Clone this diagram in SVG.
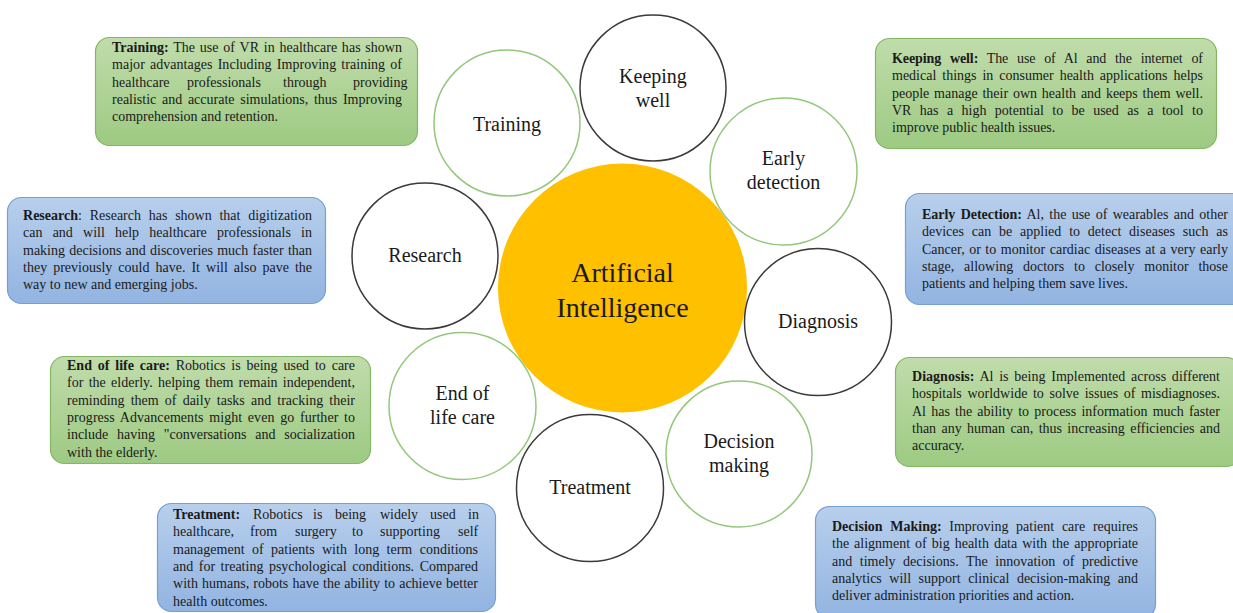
<svg xmlns="http://www.w3.org/2000/svg" width="1233" height="613" viewBox="0 0 1233 613">
  <defs>
    <linearGradient id="gGreen" x1="0" y1="0" x2="0" y2="1">
      <stop offset="0" stop-color="#c0dcab"/>
      <stop offset="1" stop-color="#9dca82"/>
    </linearGradient>
    <linearGradient id="gBlue" x1="0" y1="0" x2="0" y2="1">
      <stop offset="0" stop-color="#b8cfec"/>
      <stop offset="1" stop-color="#92b4e1"/>
    </linearGradient>
  </defs>
  <style>
    .box-green { fill: url(#gGreen); stroke: #82b865; stroke-width: 1.2; }
    .box-blue { fill: url(#gBlue); stroke: #74a0d6; stroke-width: 1.2; }
    .ring-dark { fill: #ffffff; stroke: #3a3a3a; stroke-width: 1.5; }
    .ring-green { fill: #ffffff; stroke: #93c87c; stroke-width: 1.5; }
    .hub { fill: #ffc000; }
    .lbl { font-size: 20px; fill: #1a1a1a; text-anchor: middle; }
    .hub-lbl { font-size: 28px; fill: #1a1a1a; text-anchor: middle; }
    .para { font-size: 14px; fill: #1a1a1a; }
    .b { font-weight: bold; }
  </style>

  <g font-family="'Liberation Serif', serif">
  <!-- central hub -->
  <g id="node-ai">
    <circle class="hub" cx="622.5" cy="288" r="124.5"/>
    <text class="hub-lbl" x="622.5" y="282">Artificial</text>
    <text class="hub-lbl" x="622.5" y="317">Intelligence</text>
  </g>

  <!-- satellite circles -->
  <g id="node-keeping-well">
    <circle class="ring-dark" cx="653" cy="88" r="73"/>
    <text class="lbl" x="653" y="83">Keeping</text>
    <text class="lbl" x="653" y="107">well</text>
  </g>
  <g id="node-early-detection">
    <circle class="ring-green" cx="783.5" cy="171.5" r="73.5"/>
    <text class="lbl" x="783.5" y="165">Early</text>
    <text class="lbl" x="783.5" y="189">detection</text>
  </g>
  <g id="node-diagnosis">
    <circle class="ring-dark" cx="818" cy="322" r="73.5"/>
    <text class="lbl" x="818" y="328">Diagnosis</text>
  </g>
  <g id="node-decision-making">
    <circle class="ring-green" cx="739" cy="454" r="73"/>
    <text class="lbl" x="739" y="448">Decision</text>
    <text class="lbl" x="739" y="472">making</text>
  </g>
  <g id="node-treatment">
    <circle class="ring-dark" cx="590" cy="488" r="73.5"/>
    <text class="lbl" x="590" y="494">Treatment</text>
  </g>
  <g id="node-end-of-life-care">
    <circle class="ring-green" cx="462.5" cy="406" r="73.5"/>
    <text class="lbl" x="462.5" y="400">End of</text>
    <text class="lbl" x="462.5" y="424">life care</text>
  </g>
  <g id="node-research">
    <circle class="ring-dark" cx="425" cy="256" r="73"/>
    <text class="lbl" x="425" y="262">Research</text>
  </g>
  <g id="node-training">
    <circle class="ring-green" cx="507" cy="123" r="73"/>
    <text class="lbl" x="507" y="131">Training</text>
  </g>

  <!-- description boxes (justified lines: word spacing + fixed length) -->
  <g id="note-training">
    <rect class="box-green" x="95.5" y="37.5" width="322" height="108" rx="14"/>
    <text class="para" x="112" y="52" word-spacing="1.2" textLength="290" lengthAdjust="spacing"><tspan class="b">Training:</tspan> The use of VR in healthcare has shown</text>
    <text class="para" x="112" y="69.3" word-spacing="1.6" textLength="290" lengthAdjust="spacing">major advantages Including Improving training of</text>
    <text class="para" y="86.6"><tspan x="112">healthcare</tspan><tspan x="187">professionals</tspan><tspan x="283">through</tspan><tspan x="353">providing</tspan></text>
    <text class="para" x="112" y="104" word-spacing="2.2" textLength="290" lengthAdjust="spacing">realistic and accurate simulations, thus Improving</text>
    <text class="para" x="112" y="121.3">comprehension and retention.</text>
  </g>

  <g id="note-keeping-well">
    <rect class="box-green" x="875.5" y="38.5" width="341" height="110" rx="14"/>
    <text class="para" x="892" y="63" word-spacing="5.4" textLength="311" lengthAdjust="spacing"><tspan class="b">Keeping well:</tspan> The use of Al and the internet of</text>
    <text class="para" x="892" y="80.3" word-spacing="2.4" textLength="311" lengthAdjust="spacing">medical things in consumer health applications helps</text>
    <text class="para" x="892" y="97.6" word-spacing="1.3" textLength="311" lengthAdjust="spacing">people manage their own health and keeps them well.</text>
    <text class="para" x="892" y="115" word-spacing="4.9" textLength="311" lengthAdjust="spacing">VR has a high potential to be used as a tool to</text>
    <text class="para" x="892" y="132.3">improve public health issues.</text>
  </g>

  <g id="note-research">
    <rect class="box-blue" x="7.5" y="197.5" width="318" height="106" rx="14"/>
    <text class="para" x="23" y="220" word-spacing="4.2" textLength="289" lengthAdjust="spacing"><tspan class="b">Research</tspan>: Research has shown that digitization</text>
    <text class="para" x="23" y="237.3" word-spacing="6.7" textLength="289" lengthAdjust="spacing">can and will help healthcare professionals in</text>
    <text class="para" x="23" y="254.6" word-spacing="0.7" textLength="289" lengthAdjust="spacing">making decisions and discoveries much faster than</text>
    <text class="para" x="23" y="272" word-spacing="2.5" textLength="289" lengthAdjust="spacing">they previously could have. It will also pave the</text>
    <text class="para" x="23" y="289.3">way to new and emerging jobs.</text>
  </g>

  <g id="note-early-detection">
    <rect class="box-blue" x="905.5" y="193.5" width="345" height="111" rx="14"/>
    <text class="para" x="922" y="219" word-spacing="1.9" textLength="306" lengthAdjust="spacing"><tspan class="b">Early Detection:</tspan> Al, the use of wearables and other</text>
    <text class="para" x="922" y="236.3" word-spacing="4.3" textLength="306" lengthAdjust="spacing">devices can be applied to detect diseases such as</text>
    <text class="para" x="922" y="253.6" word-spacing="1" textLength="306" lengthAdjust="spacing">Cancer, or to monitor cardiac diseases at a very early</text>
    <text class="para" x="922" y="271" word-spacing="6.3" textLength="306" lengthAdjust="spacing">stage, allowing doctors to closely monitor those</text>
    <text class="para" x="922" y="288.3">patients and helping them save lives.</text>
  </g>

  <g id="note-end-of-life-care">
    <rect class="box-green" x="50.5" y="356.5" width="320" height="107" rx="14"/>
    <text class="para" x="67" y="370" word-spacing="2.3" textLength="288" lengthAdjust="spacing"><tspan class="b">End of life care:</tspan> Robotics is being used to care</text>
    <text class="para" x="67" y="387.3" word-spacing="1.7" textLength="288" lengthAdjust="spacing">for the elderly. helping them remain independent,</text>
    <text class="para" x="67" y="404.6" word-spacing="2.6" textLength="288" lengthAdjust="spacing">reminding them of daily tasks and tracking their</text>
    <text class="para" x="67" y="422" word-spacing="2.1" textLength="288" lengthAdjust="spacing">progress Advancements might even go further to</text>
    <text class="para" x="67" y="439.3" word-spacing="5.2" textLength="288" lengthAdjust="spacing">include having "conversations and socialization</text>
    <text class="para" x="67" y="456.6">with the elderly.</text>
  </g>

  <g id="note-diagnosis">
    <rect class="box-green" x="895.5" y="357.5" width="345" height="109" rx="14"/>
    <text class="para" x="912" y="381" word-spacing="2.2" textLength="308" lengthAdjust="spacing"><tspan class="b">Diagnosis:</tspan> Al is being Implemented across different</text>
    <text class="para" x="912" y="398.3" word-spacing="2.1" textLength="308" lengthAdjust="spacing">hospitals worldwide to solve issues of misdiagnoses.</text>
    <text class="para" x="912" y="415.6" word-spacing="1.7" textLength="308" lengthAdjust="spacing">Al has the ability to process information much faster</text>
    <text class="para" x="912" y="433" word-spacing="1.8" textLength="308" lengthAdjust="spacing">than any human can, thus increasing efficiencies and</text>
    <text class="para" x="912" y="450.3">accuracy.</text>
  </g>

  <g id="note-treatment">
    <rect class="box-blue" x="157.5" y="503.5" width="338" height="108" rx="14"/>
    <text class="para" y="519"><tspan x="173" class="b">Treatment:</tspan><tspan x="253">Robotics</tspan><tspan x="313">is</tspan><tspan x="335">being</tspan><tspan x="380">widely</tspan><tspan x="430">used</tspan><tspan x="468">in</tspan></text>
    <text class="para" y="536.3"><tspan x="173">healthcare,</tspan><tspan x="250">from</tspan><tspan x="295">surgery</tspan><tspan x="352">to</tspan><tspan x="380">supporting</tspan><tspan x="458">self</tspan></text>
    <text class="para" x="173" y="553.6" word-spacing="3.9" textLength="305" lengthAdjust="spacing">management of patients with long term conditions</text>
    <text class="para" x="173" y="571" word-spacing="2" textLength="305" lengthAdjust="spacing">and for treating psychological conditions. Compared</text>
    <text class="para" x="173" y="588.3" word-spacing="0.6" textLength="305" lengthAdjust="spacing">with humans, robots have the ability to achieve better</text>
    <text class="para" x="173" y="605.6">health outcomes.</text>
  </g>

  <g id="note-decision-making">
    <rect class="box-blue" x="815.5" y="506.5" width="340" height="112" rx="14"/>
    <text class="para" x="832" y="531" word-spacing="4.2" textLength="306" lengthAdjust="spacing"><tspan class="b">Decision Making:</tspan> Improving patient care requires</text>
    <text class="para" x="832" y="548.3" word-spacing="1.5" textLength="306" lengthAdjust="spacing">the alignment of big health data with the appropriate</text>
    <text class="para" x="832" y="565.6" word-spacing="4" textLength="306" lengthAdjust="spacing">and timely decisions. The innovation of predictive</text>
    <text class="para" x="832" y="583" word-spacing="4" textLength="306" lengthAdjust="spacing">analytics will support clinical decision-making and</text>
    <text class="para" x="832" y="600.3">deliver administration priorities and action.</text>
  </g>
  </g>
</svg>
